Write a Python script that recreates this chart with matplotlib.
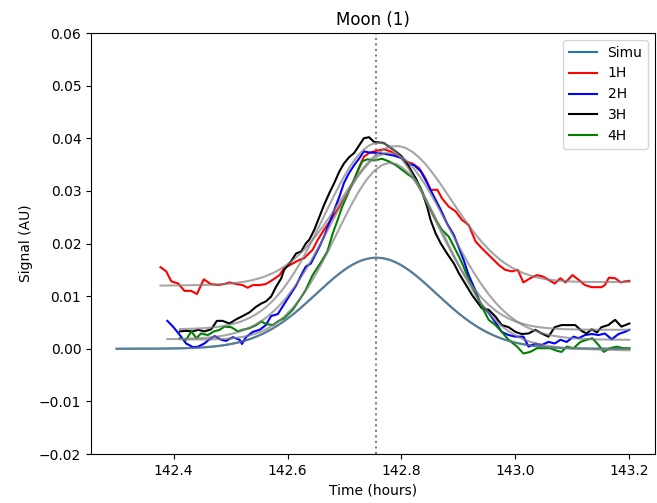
import numpy as np
import matplotlib
matplotlib.use("Agg")
import matplotlib.pyplot as plt

# --- data ---
t_1h = [142.377, 142.387, 142.396, 142.408, 142.419, 142.431, 142.441, 142.453, 142.465, 142.478,
        142.489, 142.498, 142.510, 142.521, 142.530, 142.539, 142.551, 142.562, 142.574, 142.586,
        142.594, 142.609, 142.621, 142.629, 142.644, 142.653, 142.664, 142.676, 142.691, 142.705,
        142.717, 142.726, 142.734, 142.743, 142.755, 142.769, 142.781, 142.796, 142.807, 142.819,
        142.831, 142.842, 142.851, 142.863, 142.871, 142.883, 142.895, 142.906, 142.918, 142.930,
        142.941, 142.956, 142.971, 142.982, 142.994, 143.004, 143.014, 143.026, 143.038, 143.049,
        143.058, 143.069, 143.079, 143.088, 143.100, 143.111, 143.122, 143.134, 143.151, 143.157,
        143.164, 143.175, 143.185, 143.192, 143.200]
s_1h = [0.0155, 0.0147, 0.0128, 0.0124, 0.0110, 0.0110, 0.0104, 0.0132, 0.0123, 0.0121,
        0.0123, 0.0126, 0.0123, 0.0121, 0.0116, 0.0121, 0.0121, 0.0123, 0.0131, 0.0140,
        0.0153, 0.0162, 0.0169, 0.0172, 0.0188, 0.0207, 0.0226, 0.0245, 0.0270, 0.0295,
        0.0321, 0.0346, 0.0365, 0.0372, 0.0376, 0.0379, 0.0375, 0.0365, 0.0356, 0.0352,
        0.0343, 0.0324, 0.0302, 0.0302, 0.0286, 0.0270, 0.0261, 0.0245, 0.0235, 0.0204,
        0.0191, 0.0175, 0.0159, 0.0150, 0.0147, 0.0150, 0.0126, 0.0134, 0.0140, 0.0137,
        0.0131, 0.0124, 0.0134, 0.0126, 0.0140, 0.0131, 0.0121, 0.0117, 0.0117, 0.0121,
        0.0135, 0.0134, 0.0126, 0.0128, 0.0129]

t_2h = [142.389, 142.399, 142.411, 142.422, 142.434, 142.443, 142.454, 142.463, 142.472, 142.484,
        142.492, 142.504, 142.516, 142.520, 142.527, 142.539, 142.551, 142.562, 142.571, 142.583,
        142.597, 142.615, 142.624, 142.632, 142.641, 142.647, 142.656, 142.664, 142.673, 142.682,
        142.691, 142.699, 142.708, 142.717, 142.726, 142.734, 142.743, 142.758, 142.772, 142.787,
        142.801, 142.810, 142.822, 142.834, 142.845, 142.857, 142.869, 142.880, 142.892, 142.901,
        142.909, 142.918, 142.930, 142.939, 142.953, 142.965, 142.976, 142.988, 143.000, 143.014,
        143.023, 143.035, 143.046, 143.058, 143.069, 143.079, 143.090, 143.102, 143.111, 143.122,
        143.134, 143.146, 143.157, 143.169, 143.181, 143.192, 143.200]
s_2h = [0.0053, 0.0042, 0.0026, 0.0010, 0.0003, 0.0004, 0.0010, 0.0018, 0.0024, 0.0017,
        0.0015, 0.0022, 0.0017, 0.0009, 0.0022, 0.0032, 0.0036, 0.0045, 0.0062, 0.0066,
        0.0090, 0.0120, 0.0140, 0.0156, 0.0162, 0.0175, 0.0194, 0.0213, 0.0238, 0.0264,
        0.0289, 0.0315, 0.0334, 0.0349, 0.0362, 0.0375, 0.0373, 0.0372, 0.0370, 0.0367,
        0.0362, 0.0351, 0.0349, 0.0337, 0.0315, 0.0289, 0.0264, 0.0238, 0.0216, 0.0191,
        0.0169, 0.0140, 0.0110, 0.0085, 0.0068, 0.0050, 0.0032, 0.0026, 0.0023, 0.0023,
        0.0004, 0.0010, 0.0007, 0.0013, 0.0010, 0.0017, 0.0013, 0.0023, 0.0020, 0.0026,
        0.0028, 0.0026, 0.0029, 0.0018, 0.0028, 0.0032, 0.0036]

t_3h = [142.411, 142.422, 142.434, 142.443, 142.454, 142.466, 142.476, 142.486, 142.498, 142.510,
        142.521, 142.533, 142.545, 142.554, 142.562, 142.571, 142.580, 142.589, 142.594, 142.606,
        142.615, 142.624, 142.632, 142.638, 142.647, 142.656, 142.664, 142.673, 142.682, 142.691,
        142.699, 142.708, 142.717, 142.726, 142.734, 142.743, 142.752, 142.761, 142.769, 142.778,
        142.790, 142.801, 142.813, 142.825, 142.836, 142.845, 142.851, 142.860, 142.869, 142.880,
        142.892, 142.901, 142.924, 142.941, 142.953, 142.965, 142.976, 142.988, 143.000, 143.011,
        143.023, 143.035, 143.046, 143.058, 143.069, 143.081, 143.093, 143.105, 143.116, 143.125,
        143.134, 143.143, 143.151, 143.163, 143.175, 143.186, 143.200]
s_3h = [0.0033, 0.0034, 0.0033, 0.0036, 0.0033, 0.0037, 0.0053, 0.0053, 0.0048, 0.0056,
        0.0062, 0.0069, 0.0080, 0.0086, 0.0090, 0.0099, 0.0118, 0.0134, 0.0150, 0.0166,
        0.0181, 0.0185, 0.0200, 0.0207, 0.0226, 0.0251, 0.0273, 0.0295, 0.0315, 0.0337,
        0.0352, 0.0364, 0.0372, 0.0387, 0.0400, 0.0402, 0.0393, 0.0392, 0.0391, 0.0384,
        0.0375, 0.0365, 0.0346, 0.0324, 0.0299, 0.0270, 0.0245, 0.0219, 0.0200, 0.0181,
        0.0162, 0.0143, 0.0102, 0.0077, 0.0074, 0.0061, 0.0045, 0.0041, 0.0032, 0.0028,
        0.0029, 0.0036, 0.0029, 0.0023, 0.0041, 0.0045, 0.0045, 0.0045, 0.0034, 0.0029,
        0.0037, 0.0031, 0.0041, 0.0045, 0.0055, 0.0042, 0.0048]

t_4h = [142.411, 142.422, 142.431, 142.440, 142.448, 142.460, 142.471, 142.481, 142.489, 142.501,
        142.513, 142.521, 142.533, 142.545, 142.554, 142.562, 142.574, 142.583, 142.594, 142.609,
        142.621, 142.632, 142.644, 142.659, 142.670, 142.679, 142.688, 142.696, 142.705, 142.714,
        142.723, 142.731, 142.740, 142.752, 142.766, 142.778, 142.790, 142.801, 142.813, 142.822,
        142.831, 142.839, 142.848, 142.860, 142.871, 142.883, 142.892, 142.901, 142.909, 142.918,
        142.930, 142.941, 142.953, 142.965, 142.976, 142.988, 143.003, 143.014, 143.026, 143.038,
        143.049, 143.061, 143.073, 143.081, 143.090, 143.102, 143.114, 143.125, 143.135, 143.146,
        143.155, 143.166, 143.178, 143.189, 143.200]
s_4h = [0.0020, 0.0017, 0.0033, 0.0020, 0.0029, 0.0026, 0.0033, 0.0036, 0.0042, 0.0041,
        0.0033, 0.0036, 0.0039, 0.0045, 0.0052, 0.0047, 0.0045, 0.0052, 0.0058, 0.0074,
        0.0093, 0.0112, 0.0140, 0.0165, 0.0185, 0.0218, 0.0245, 0.0270, 0.0292, 0.0315,
        0.0337, 0.0356, 0.0360, 0.0358, 0.0361, 0.0356, 0.0349, 0.0340, 0.0330, 0.0324,
        0.0311, 0.0292, 0.0270, 0.0245, 0.0226, 0.0213, 0.0194, 0.0175, 0.0156, 0.0132,
        0.0105, 0.0080, 0.0055, 0.0045, 0.0032, 0.0017, 0.0004, -0.0009, -0.0006, 0.0001,
        0.0001, 0.0001, -0.0004, -0.0006, 0.0004, 0.0001, 0.0013, 0.0017, 0.0020, 0.0007,
        -0.0006, 0.0001, 0.0004, 0.0001, 0.0001]

labels = ['1H', '2H', '3H', '4H']
colors = ['red', 'blue', 'black', 'green']

# gaussian fit parameters (gray curves): center, sigma, amplitude, baseline at start/end
fit_center = [142.790, 142.778, 142.760, 142.781]
fit_sigma = [0.097, 0.104, 0.096, 0.094]
fit_amp = [0.0262, 0.0355, 0.0355, 0.0345]
fit_base0 = [0.0120, 0.0018, 0.0037, 0.0018]
fit_base1 = [0.0127, 0.0017, 0.0036, -0.0003]

# simulation
sim_start, sim_end = 142.30, 143.20
sim_center = 142.756
sim_sigma = 0.105
sim_peak = 0.0173


def gauss_fit(t, c, s, a, b0, b1):
    t = np.asarray(t)
    base = b0 + (b1 - b0) * (t - t[0]) / (t[-1] - t[0])
    return base + a * np.exp(-(t - c) ** 2 / (2 * s ** 2))


fig, ax = plt.subplots(figsize=(6.57, 5.03), dpi=100)
fig.subplots_adjust(left=91/657, right=655/657, top=1-33/503, bottom=1-454/503)

t_sim = np.linspace(sim_start, sim_end, 300)
y_sim = sim_peak * np.exp(-(t_sim - sim_center) ** 2 / (2 * sim_sigma ** 2))
ax.plot(t_sim, y_sim, color='C0', lw=1.5, label='Simu')

series = [(t_1h, s_1h), (t_2h, s_2h), (t_3h, s_3h), (t_4h, s_4h)]
for (t, s), lab, col in zip(series, labels, colors):
    ax.plot(t, s, color=col, lw=1.5, label=lab)

for i, (t, s) in enumerate(series):
    ax.plot(t, gauss_fit(t, fit_center[i], fit_sigma[i], fit_amp[i], fit_base0[i], fit_base1[i]),
            color='gray', alpha=0.7, lw=1.5)
ax.plot(t_sim, y_sim, color='gray', alpha=0.6, lw=1.5)

ax.axvline(sim_center, color='gray', linestyle=':')
ax.set_ylim(-0.02, 0.06)
ax.set_xlabel('Time (hours)')
ax.set_ylabel('Signal (AU)')
ax.set_title('Moon (1)')
ax.legend(loc='upper right')

fig.savefig('out.png', dpi=100)
